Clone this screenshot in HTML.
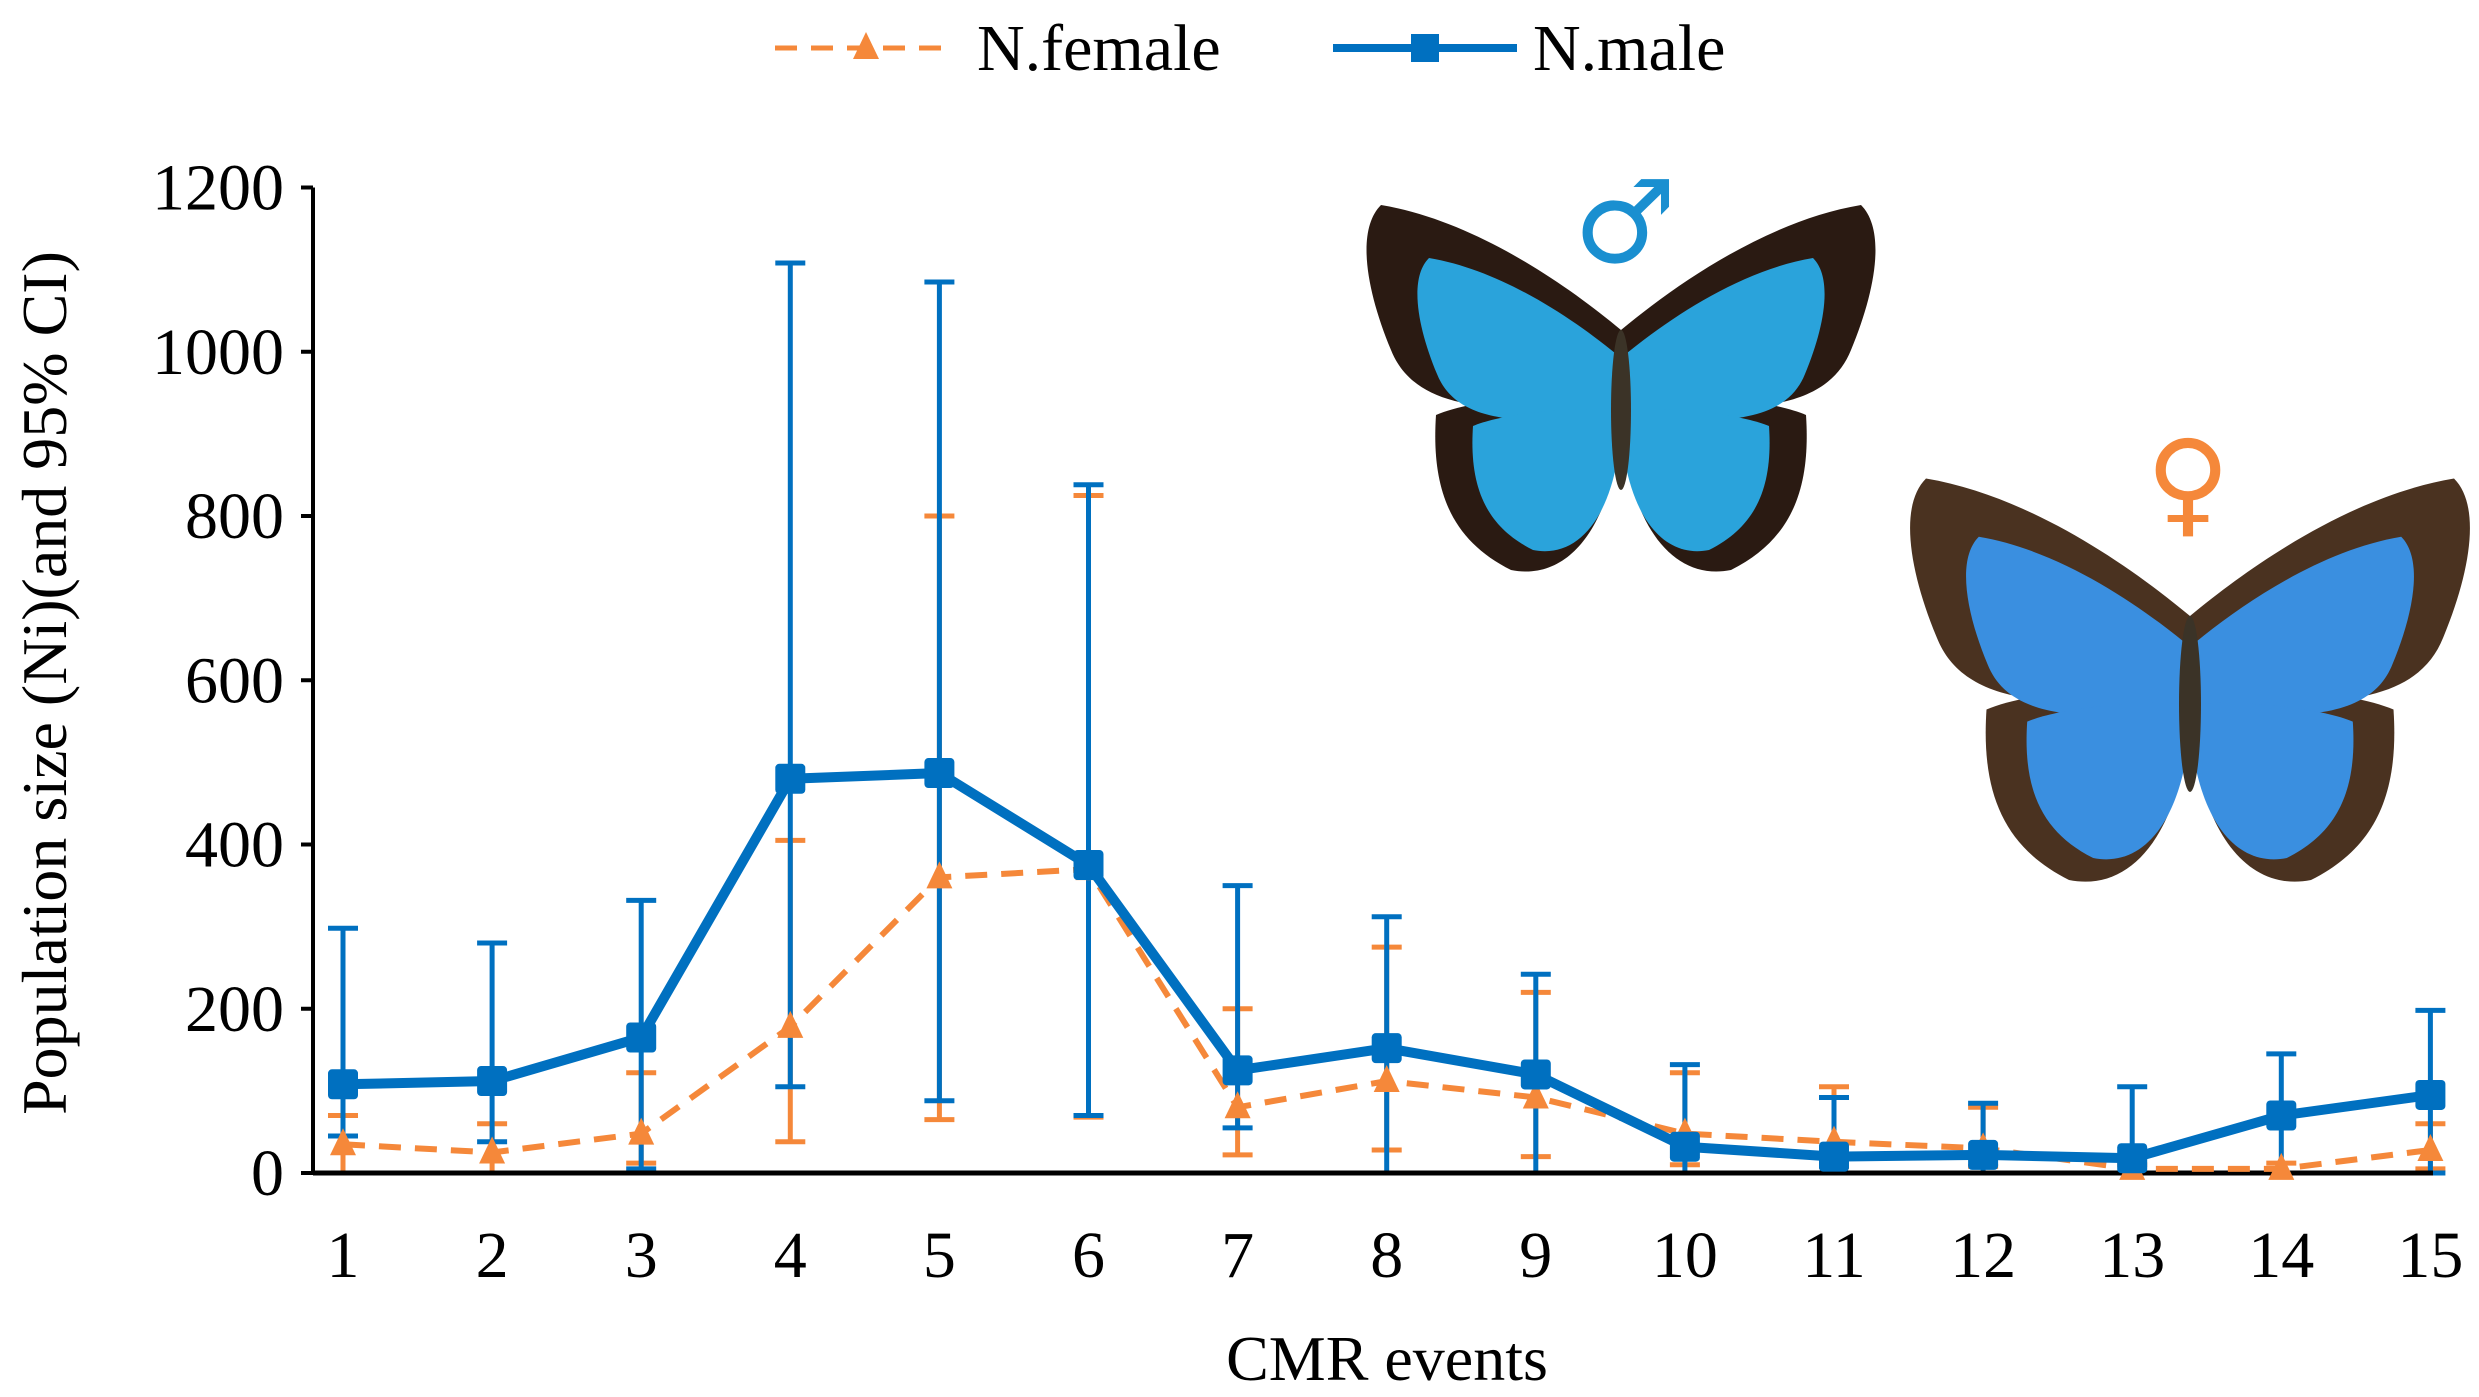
<!DOCTYPE html>
<html><head><meta charset="utf-8">
<style>
html,body{margin:0;padding:0;background:#fff;}
svg{display:block;font-family:"Liberation Serif",serif;}
</style></head>
<body>
<svg id="chart" width="2479" height="1397" viewBox="0 0 2479 1397" xmlns="http://www.w3.org/2000/svg">
<defs>
 <g id="wingsL">
  <path id="uw" d="M0,-40 C-60,-90 -150,-150 -240,-165 C-265,-140 -255,-80 -230,-20 C-210,30 -150,50 -10,30 Z"/>
  <path id="lw" d="M-5,25 C-60,20 -150,30 -185,45 C-190,120 -170,170 -110,200 C-60,210 -20,170 -5,90 Z"/>
 </g>
</defs>
<g id="butterflies"></g>
<g id="axes"></g>
<g id="plot"></g>
<g id="legend"></g>
</svg>
<script>
const categories = ['1','2','3','4','5','6','7','8','9','10','11','12','13','14','15'];
const maleN  = [108,112,165,480,487,375,125,152,120,32,20,22,18,70,95];
const maleLo = [45,38,5,105,88,70,55,0,0,0,0,0,0,0,0];
const maleHi = [298,280,332,1108,1085,838,350,312,242,132,92,85,105,145,198];
const femaleN  = [35,25,48,178,360,370,80,112,92,48,38,30,5,5,28];
const femaleLo = [0,0,12,38,65,68,22,28,20,10,8,8,0,0,5];
const femaleHi = [70,60,122,405,800,825,200,275,220,122,105,80,10,12,60];
const yTicks = [0,200,400,600,800,1000,1200];

const NS='http://www.w3.org/2000/svg';
const X0=343, DX=149.1, Y0=1173, YS=(1173-187.5)/1200;
const xS=i=>X0+i*DX;
const yS=v=>Y0-v*YS;
function mk(tag,attrs,parent){const e=document.createElementNS(NS,tag);for(const k in attrs)e.setAttribute(k,attrs[k]);parent.appendChild(e);return e;}

const axes=document.getElementById('axes');
const plot=document.getElementById('plot');
const legend=document.getElementById('legend');
const bf=document.getElementById('butterflies');

let ya=mk('line',{x1:313,y1:yS(1200),x2:313,y2:Y0,stroke:'#000','stroke-width':4},axes);


yTicks.forEach(t=>{
  let tk=mk('line',{x1:301,x2:313,y1:yS(t),y2:yS(t),stroke:'#000','stroke-width':4},axes);
  
  
  let tl=mk('text',{x:284,y:yS(t)+22,'text-anchor':'end','font-size':66,fill:'#000'},axes);
  tl.textContent=t;
  
  
});
categories.forEach((c,i)=>{
  let tl=mk('text',{x:xS(i),y:1277,'text-anchor':'middle','font-size':66,fill:'#000'},axes);
  tl.textContent=c;
  
  
});
let yt=mk('text',{x:0,y:0,transform:'translate(66,683) rotate(-90)','text-anchor':'middle','font-size':64,fill:'#000'},axes);
yt.textContent='Population size (Ni)(and 95% CI)';


let xt=mk('text',{x:1387,y:1380,'text-anchor':'middle','font-size':64,fill:'#000'},axes);
xt.textContent='CMR events';



const MC='#0070c0', FC='#f5883a';
categories.forEach((c,i)=>{
  const x=xS(i);
  let g=mk('g',{stroke:FC,'stroke-width':5},plot);
  
  
  mk('line',{x1:x,x2:x,y1:yS(femaleHi[i]),y2:yS(femaleLo[i])},g);
  mk('line',{x1:x-15,x2:x+15,y1:yS(femaleHi[i]),y2:yS(femaleHi[i])},g);
  mk('line',{x1:x-15,x2:x+15,y1:yS(femaleLo[i]),y2:yS(femaleLo[i])},g);
});
categories.forEach((c,i)=>{
  const x=xS(i);
  let g=mk('g',{stroke:MC,'stroke-width':5},plot);
  
  
  mk('line',{x1:x,x2:x,y1:yS(maleHi[i]),y2:yS(maleLo[i])},g);
  mk('line',{x1:x-15,x2:x+15,y1:yS(maleHi[i]),y2:yS(maleHi[i])},g);
  mk('line',{x1:x-15,x2:x+15,y1:yS(maleLo[i]),y2:yS(maleLo[i])},g);
});
let xa=mk('line',{x1:313,y1:Y0,x2:2433,y2:Y0,stroke:'#000','stroke-width':5},plot);


let fl=mk('polyline',{points:femaleN.map((v,i)=>xS(i)+','+yS(v)).join(' '),fill:'none',stroke:FC,'stroke-width':6,'stroke-dasharray':'22 14'},plot);


femaleN.forEach((v,i)=>{
  const x=xS(i),y=yS(v);
  let t=mk('polygon',{points:`${x},${y-16} ${x-13},${y+11} ${x+13},${y+11}`,fill:FC},plot);
  
  
});
let ml=mk('polyline',{points:maleN.map((v,i)=>xS(i)+','+yS(v)).join(' '),fill:'none',stroke:MC,'stroke-width':10,'stroke-linejoin':'round'},plot);


maleN.forEach((v,i)=>{
  const x=xS(i),y=yS(v);
  let r=mk('rect',{x:x-15,y:y-15,width:30,height:30,rx:4,fill:MC},plot);
  
  
});

let lf=mk('g',{},legend);


mk('line',{x1:775,x2:955,y1:48,y2:48,stroke:FC,'stroke-width':5,'stroke-dasharray':'22 14'},lf);
mk('polygon',{points:'866,32 853,59 879,59',fill:FC},lf);
let lft=mk('text',{x:977,y:70,'font-size':66,fill:'#000'},lf);lft.textContent='N.female';
let lm=mk('g',{},legend);


mk('line',{x1:1333,x2:1517,y1:48,y2:48,stroke:MC,'stroke-width':8},lm);
mk('rect',{x:1411,y:34,width:28,height:28,fill:MC},lm);
let lmt=mk('text',{x:1533,y:70,'font-size':66,fill:'#000'},lm);lmt.textContent='N.male';

function butterfly(cx,cy,s,border,blue,name){
  let g=mk('g',{transform:`translate(${cx},${cy}) scale(${s})`},bf);
  
  
  [1,-1].forEach(m=>{
    let w=mk('g',{transform:`scale(${m},1)`},g);
    mk('use',{href:'#uw',fill:border},w);
    mk('use',{href:'#lw',fill:border},w);
    let inner=mk('g',{transform:'translate(0,20) scale(0.8)'},w);
    mk('use',{href:'#uw',fill:blue},inner);
    mk('use',{href:'#lw',fill:blue},inner);
  });
  mk('ellipse',{cx:0,cy:40,rx:10,ry:80,fill:'#3b3327'},g);
}
butterfly(1621,370,1.0,'#2a1a12','#2aa3db','male-butterfly-image');
butterfly(2190,660,1.1,'#4a3220','#3a8fe0','female-butterfly-image');
let ms=mk('text',{x:1625,y:262,'text-anchor':'middle','font-size':115,fill:'#1a8fd0','font-family':'"DejaVu Sans",sans-serif'},bf);
ms.textContent='♂';


let fs=mk('text',{x:2188,y:522,'text-anchor':'middle','font-size':115,fill:'#f5883a','font-family':'"DejaVu Sans",sans-serif'},bf);
fs.textContent='♀';


</script>
</body></html>
